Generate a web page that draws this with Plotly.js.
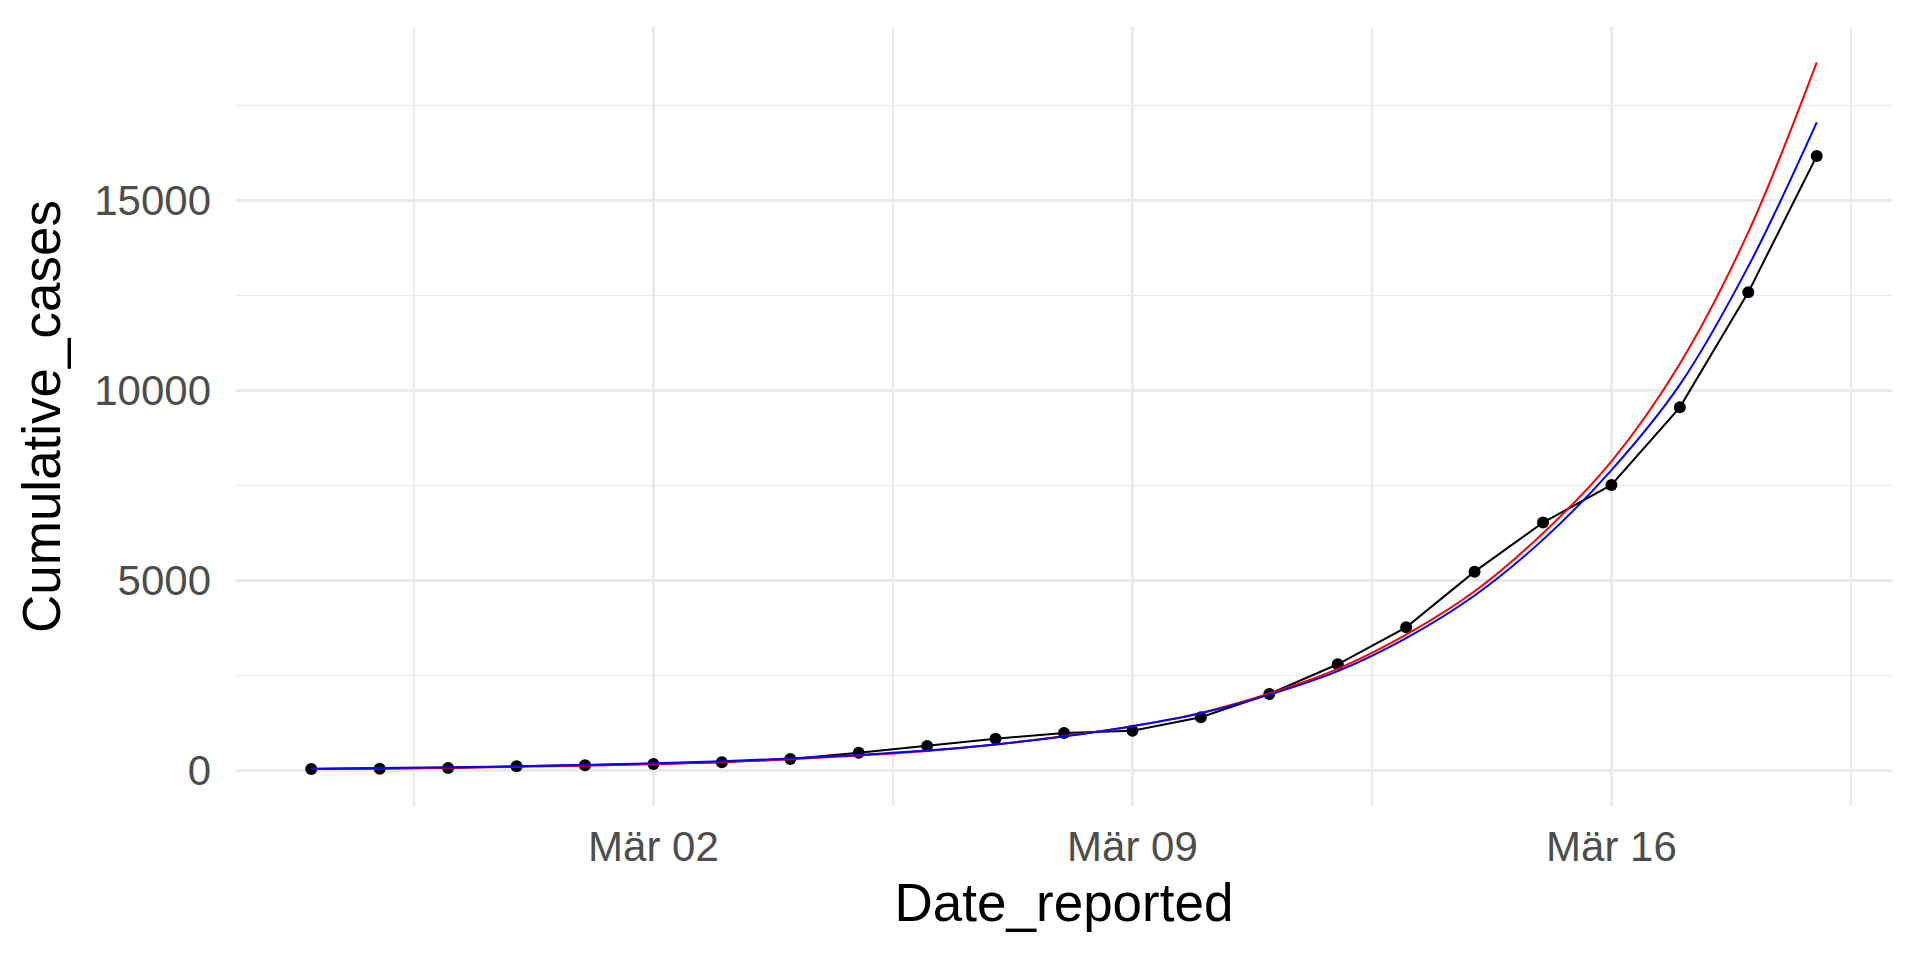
<!DOCTYPE html>
<html>
<head>
<meta charset="utf-8">
<script src="https://cdn.plot.ly/plotly-3.0.1.min.js"></script>
<style>
  html, body { margin: 0; padding: 0; background: #ffffff; }
  #chart { width: 1920px; height: 960px; }
</style>
</head>
<body>
<div id="chart"></div>
<script>
// Dates reported (2020)
const dates = [
  '2020-02-26','2020-02-27','2020-02-28','2020-02-29','2020-03-01','2020-03-02',
  '2020-03-03','2020-03-04','2020-03-05','2020-03-06','2020-03-07','2020-03-08',
  '2020-03-09','2020-03-10','2020-03-11','2020-03-12','2020-03-13','2020-03-14',
  '2020-03-15','2020-03-16','2020-03-17','2020-03-18','2020-03-19'
];
// Observed cumulative cases (black points/line)
const cumulativeCases = [
  44, 48, 70, 114, 140, 175,
  219, 307, 474, 649, 842, 991,
  1053, 1404, 2018, 2800, 3772, 5237,
  6530, 7518, 9561, 12587, 16176
];
// Red fitted curve at each date
const fitRed = [
  45, 58, 76, 100, 132, 174,
  228, 300, 400, 520, 690, 910,
  1170, 1520, 2030, 2680, 3580, 4720,
  6250, 8140, 10710, 14170, 18640
];
// Blue fitted curve at each date
const fitBlue = [
  52, 68, 88, 115, 148, 192,
  248, 320, 415, 530, 690, 900,
  1170, 1510, 2000, 2620, 3490, 4610,
  6080, 7910, 10160, 13270, 17060
];
// Axis ticks
const xTickVals = ['2020-03-02', '2020-03-09', '2020-03-16'];
const xTickText = ['Mär 02', 'Mär 09', 'Mär 16'];
const yTickVals = [0, 5000, 10000, 15000];
const yTickText = ['0', '5000', '10000', '15000'];

const DAY = 86400000;
const gridColor = '#EBEBEB';
const font = 'Liberation Sans, Arial, Helvetica, sans-serif';

const traces = [
  {
    x: dates, y: cumulativeCases, type: 'scatter', mode: 'lines+markers',
    line: { color: '#000000', width: 2 },
    marker: { color: '#000000', size: 12 },
    hoverinfo: 'x+y', showlegend: false
  },
  {
    x: dates, y: fitRed, type: 'scatter', mode: 'lines',
    line: { color: '#FF0000', width: 2, shape: 'spline', smoothing: 1 },
    showlegend: false
  },
  {
    x: dates, y: fitBlue, type: 'scatter', mode: 'lines',
    line: { color: '#0000FF', width: 2, shape: 'spline', smoothing: 1 },
    showlegend: false
  }
];

const layout = {
  width: 1920, height: 960,
  paper_bgcolor: '#ffffff', plot_bgcolor: '#ffffff',
  margin: { l: 236, r: 28, t: 27, b: 154 },
  showlegend: false,
  font: { family: font, color: '#4D4D4D' },
  xaxis: {
    type: 'date',
    range: ['2020-02-24 21:36', '2020-03-20 02:24'],
    tickmode: 'array', tickvals: xTickVals, ticktext: xTickText,
    tickfont: { family: font, size: 42, color: '#4D4D4D' },
    ticks: '', ticklabelstandoff: 12,
    showgrid: true, gridcolor: gridColor, gridwidth: 3,
    zeroline: false, showline: false,
    minor: { tickmode: 'linear', tick0: '2020-02-27 12:00', dtick: 7 * DAY,
             showgrid: true, gridcolor: gridColor, gridwidth: 1.5, ticks: '' },
    title: { text: 'Date_reported', font: { family: font, size: 53, color: '#000000' }, standoff: 14 },
    automargin: false
  },
  yaxis: {
    range: [-930, 19570],
    tickmode: 'array', tickvals: yTickVals, ticktext: yTickText,
    tickfont: { family: font, size: 42, color: '#4D4D4D' },
    ticks: '', ticklabelstandoff: 24,
    showgrid: true, gridcolor: gridColor, gridwidth: 3,
    zeroline: false, showline: false,
    minor: { tickmode: 'linear', tick0: 2500, dtick: 5000,
             showgrid: true, gridcolor: gridColor, gridwidth: 1.5, ticks: '' },
    title: { text: 'Cumulative_cases', font: { family: font, size: 53, color: '#000000' }, standoff: 16 },
    automargin: false
  }
};

Plotly.newPlot('chart', traces, layout, { displayModeBar: false, staticPlot: true });
</script>
</body>
</html>
